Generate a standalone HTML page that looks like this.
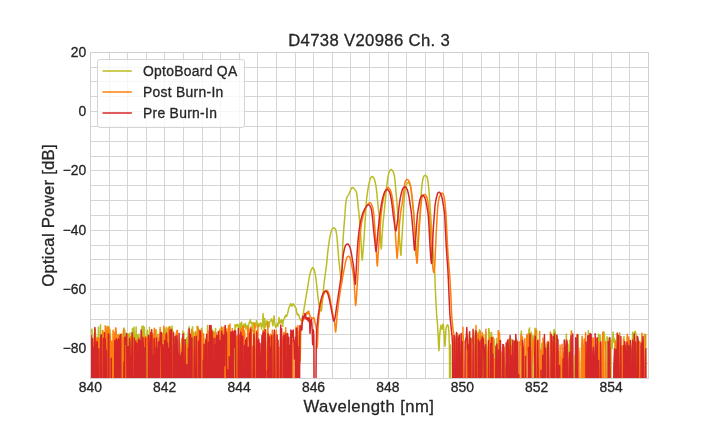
<!DOCTYPE html>
<html lang="en"><head><meta charset="utf-8"><title>D4738 V20986 Ch. 3</title>
<style>html,body{margin:0;padding:0;background:#fff;overflow:hidden}svg{display:block;will-change:transform}text{font-family:"Liberation Sans",sans-serif;fill:#262626;stroke:#262626;stroke-width:0.3px}</style></head><body>
<svg width="720" height="432" viewBox="0 0 720 432">
<rect width="720" height="432" fill="#fff"/>
<clipPath id="ax"><rect x="90.5" y="52.5" width="558" height="325.6"/></clipPath>
<path d="M90.5 52.0V379.0M109.5 52.0V379.0M127.5 52.0V379.0M146.5 52.0V379.0M164.5 52.0V379.0M183.5 52.0V379.0M202.5 52.0V379.0M220.5 52.0V379.0M239.5 52.0V379.0M257.5 52.0V379.0M276.5 52.0V379.0M295.5 52.0V379.0M313.5 52.0V379.0M332.5 52.0V379.0M350.5 52.0V379.0M369.5 52.0V379.0M388.5 52.0V379.0M406.5 52.0V379.0M425.5 52.0V379.0M443.5 52.0V379.0M462.5 52.0V379.0M481.5 52.0V379.0M499.5 52.0V379.0M518.5 52.0V379.0M536.5 52.0V379.0M555.5 52.0V379.0M574.5 52.0V379.0M592.5 52.0V379.0M611.5 52.0V379.0M629.5 52.0V379.0M648.5 52.0V379.0M90.0 52.5H649.0M90.0 67.5H649.0M90.0 81.5H649.0M90.0 96.5H649.0M90.0 111.5H649.0M90.0 126.5H649.0M90.0 141.5H649.0M90.0 156.5H649.0M90.0 170.5H649.0M90.0 185.5H649.0M90.0 200.5H649.0M90.0 215.5H649.0M90.0 230.5H649.0M90.0 245.5H649.0M90.0 259.5H649.0M90.0 274.5H649.0M90.0 289.5H649.0M90.0 304.5H649.0M90.0 319.5H649.0M90.0 334.5H649.0M90.0 348.5H649.0M90.0 363.5H649.0M90.0 378.5H649.0" stroke="#d5d5d5" stroke-width="1" fill="none"/>
<g clip-path="url(#ax)" fill="none" stroke-width="1.5" stroke-linejoin="round" stroke-linecap="round">
<path d="M90.08 460.00L90.41 460.00L91.03 460.00L91.58 330.01L92.05 329.21L92.49 460.00L92.88 460.00L93.44 355.31L94.05 460.00L94.53 336.32L94.90 328.68L95.41 333.19L96.02 340.03L96.61 347.63L97.06 342.02L97.54 337.68L98.12 339.18L98.57 326.97L99.10 460.00L99.49 348.33L100.07 343.95L100.57 324.76L100.96 460.00L101.41 344.56L102.00 460.00L102.50 336.41L102.93 330.91L103.53 341.70L104.01 340.26L104.47 460.00L105.09 337.61L105.51 341.81L106.00 342.61L106.62 328.94L107.00 331.38L107.39 329.36L107.94 326.33L108.41 326.69L108.99 331.91L109.42 460.00L109.91 329.28L110.43 335.55L110.96 360.50L111.53 460.00L112.06 460.00L112.50 460.00L112.92 460.00L113.51 345.55L113.93 460.00L114.53 342.62L115.09 332.60L115.56 460.00L115.95 331.50L116.61 460.00L117.12 460.00L117.56 339.12L117.90 460.00L118.48 337.67L119.05 334.35L119.43 460.00L120.10 334.19L120.50 336.02L120.89 341.92L121.38 460.00L121.92 333.69L122.59 460.00L123.11 357.25L123.39 460.00L123.99 327.94L124.48 341.76L124.92 330.47L125.56 356.37L126.00 350.54L126.60 460.00L127.05 337.35L127.52 334.60L128.12 333.89L128.56 357.95L128.98 337.45L129.57 335.28L129.89 333.11L130.49 460.00L130.96 460.00L131.61 338.50L131.96 338.66L132.47 328.56L133.04 338.36L133.38 350.34L133.94 326.98L134.47 336.02L134.94 460.00L135.51 350.38L136.12 326.94L136.58 347.08L137.02 460.00L137.49 334.64L138.00 460.00L138.61 338.48L138.95 334.30L139.52 349.17L140.05 460.00L140.38 460.00L140.89 460.00L141.56 460.00L141.89 326.34L142.61 330.04L143.10 460.00L143.51 326.00L144.06 342.56L144.40 327.50L144.99 348.15L145.39 460.00L145.99 337.06L146.52 460.00L147.07 333.51L147.43 330.13L148.10 460.00L148.53 372.58L148.94 460.00L149.53 327.35L149.92 338.16L150.62 460.00L150.89 350.39L151.48 460.00L151.90 351.00L152.54 342.40L153.03 351.60L153.49 460.00L153.96 460.00L154.40 350.26L155.03 344.14L155.44 348.33L155.97 329.71L156.51 331.57L157.11 366.19L157.59 345.19L157.90 460.00L158.50 344.26L158.89 338.37L159.54 460.00L159.95 460.00L160.45 329.63L160.96 460.00L161.52 349.69L162.11 342.74L162.45 333.24L163.11 334.88L163.47 389.22L163.97 460.00L164.52 332.47L164.92 328.09L165.60 339.47L165.88 460.00L166.62 327.17L167.08 343.36L167.51 460.00L168.06 343.29L168.40 350.23L169.04 329.70L169.43 460.00L170.01 326.61L170.62 334.32L171.00 337.49L171.60 346.17L172.04 325.95L172.60 335.51L173.01 331.35L173.48 344.00L174.06 460.00L174.42 338.34L174.98 460.00L175.62 460.00L175.95 460.00L176.54 460.00L176.99 354.11L177.60 344.52L177.90 460.00L178.43 460.00L179.05 460.00L179.45 359.14L180.06 460.00L180.51 460.00L180.94 348.72L181.61 341.25L181.93 339.74L182.61 460.00L183.00 331.10L183.62 460.00L183.93 332.71L184.49 460.00L185.07 460.00L185.41 340.01L185.94 460.00L186.50 343.10L186.91 337.44L187.38 373.56L187.94 336.84L188.50 330.47L189.09 326.84L189.57 460.00L190.10 342.92L190.58 460.00L191.01 460.00L191.45 331.68L191.95 460.00L192.46 326.69L192.99 333.07L193.58 336.21L193.93 332.15L194.49 363.31L195.12 460.00L195.45 342.76L196.01 460.00L196.46 460.00L197.04 326.30L197.42 460.00L198.02 328.17L198.58 329.17L198.91 460.00L199.54 460.00L200.08 340.79L200.43 331.38L200.91 460.00L201.50 328.23L202.07 330.10L202.48 335.03L202.98 460.00L203.62 336.81L203.96 338.67L204.54 460.00L204.97 460.00L205.58 345.03L206.01 340.12L206.50 460.00L207.05 460.00L207.50 325.39L208.11 343.93L208.42 337.26L208.94 460.00L209.61 345.88L209.99 460.00L210.62 460.00L211.10 460.00L211.52 332.17L212.12 350.90L212.41 329.60L212.94 338.63L213.42 331.54L213.92 349.14L214.61 357.58L215.06 338.22L215.58 328.47L215.92 460.00L216.52 336.25L217.00 460.00L217.52 460.00L218.04 460.00L218.54 460.00L219.11 460.00L219.49 333.31L220.06 328.90L220.50 329.09L220.98 329.56L221.60 326.90L221.96 330.29L222.56 460.00L223.06 353.10L223.52 389.21L223.91 460.00L224.50 332.06L224.93 329.71L225.47 460.00L225.89 460.00L226.62 339.08L227.08 334.61L227.56 460.00L228.10 333.23L228.57 460.00L229.01 460.00L229.45 333.74L229.89 460.00L230.58 406.17L230.89 332.51L231.60 460.00L232.00 460.00L232.49 333.35L232.95 460.00L233.58 338.29L233.99 460.00L234.59 460.00L235.00 324.80L235.55 327.97L236.10 325.86L236.65 324.56L237.20 324.39L237.75 326.50L238.30 325.10L238.85 329.51L239.40 328.66L239.95 323.16L240.50 331.54L241.05 328.80L241.60 322.05L242.15 328.54L242.70 328.91L243.25 328.41L243.80 324.12L244.35 327.19L244.90 326.29L245.45 323.58L246.00 329.62L246.55 325.78L247.10 326.91L247.65 325.48L248.20 329.45L248.75 325.73L249.30 322.15L249.85 321.64L250.40 319.57L250.95 323.01L251.50 323.64L252.05 322.60L252.60 331.23L253.15 323.47L253.70 322.54L254.25 323.77L254.80 323.55L255.35 327.73L255.90 324.13L256.45 320.80L257.00 323.74L257.55 328.25L258.10 325.46L258.65 323.78L259.20 326.46L259.75 324.62L260.30 322.94L260.85 323.01L261.40 328.99L261.95 324.10L262.50 326.42L263.05 313.50L263.60 323.34L264.15 330.98L264.70 318.47L265.25 327.06L265.80 324.45L266.35 323.73L266.90 320.72L267.45 326.82L268.00 322.08L268.55 325.18L269.10 326.97L269.65 321.74L270.20 321.20L270.75 320.54L271.30 318.96L271.85 319.77L272.40 322.90L272.95 325.80L273.50 319.43L274.05 315.83L274.60 322.16L275.15 325.47L275.70 327.67L276.25 325.08L276.80 326.49L277.35 323.21L277.90 326.09L278.45 323.59L279.00 317.57L279.55 323.31L280.10 320.58L280.65 320.55L281.20 322.78L281.75 319.50L282.30 320.85L282.85 326.46L283.00 321.30L283.35 320.67L283.70 320.06L284.05 318.88L284.40 318.30L284.75 317.74L285.10 316.22L285.45 315.69L285.60 315.48L285.80 315.21L286.15 316.52L286.50 316.16L286.85 315.76L287.20 314.36L287.50 313.80L287.55 313.66L287.90 312.09L288.25 310.49L288.61 308.60L288.75 308.11L288.96 307.58L289.31 306.78L289.66 306.04L290.01 305.47L290.36 303.91L290.60 303.83L290.71 303.86L291.06 304.17L291.41 305.74L291.76 306.09L291.90 306.13L292.11 306.04L292.46 304.85L292.81 304.26L293.16 303.74L293.50 304.53L293.51 304.53L293.86 304.77L294.21 305.36L294.56 305.95L294.91 306.70L295.00 306.87L295.26 307.33L295.61 307.47L295.96 308.18L296.25 308.88L296.31 309.06L296.66 311.86L297.01 313.47L297.36 314.91L297.50 313.54L297.71 314.06L298.06 314.78L298.41 314.42L298.75 315.04L298.76 315.07L299.11 315.82L299.46 317.82L299.82 318.49L300.00 318.77L300.17 319.00L300.52 319.99L300.87 320.37L301.22 320.54L301.25 320.54L301.57 320.84L301.92 320.18L302.27 319.25L302.50 317.89L302.62 317.47L302.97 315.63L303.32 313.38L303.67 311.00L303.75 310.50L304.02 308.89L304.37 306.79L304.72 304.68L305.00 303.00L305.07 302.58L305.42 300.47L305.77 298.36L306.12 296.27L306.25 295.50L306.47 294.20L306.82 292.16L307.17 290.14L307.52 288.10L307.75 286.75L307.87 286.01L308.22 283.78L308.57 281.49L308.92 279.30L309.27 277.36L309.40 276.75L309.62 275.72L309.97 274.17L310.32 272.72L310.67 271.45L311.03 270.42L311.25 269.90L311.38 269.65L311.73 268.95L312.08 268.33L312.43 267.87L312.78 267.62L312.90 267.60L313.13 267.70L313.48 268.17L313.83 268.93L314.18 269.87L314.40 270.50L314.53 270.92L314.88 272.47L315.23 274.46L315.58 276.62L315.60 276.75L315.93 278.96L316.28 281.62L316.63 284.48L316.90 286.75L316.98 287.45L317.33 290.78L317.68 294.26L318.03 297.45L318.10 298.00L318.38 300.24L318.73 302.95L319.08 305.26L319.40 306.75L319.43 306.86L319.78 308.07L320.13 309.17L320.48 310.07L320.83 310.71L321.18 310.99L321.25 311.00L321.53 310.21L321.88 307.48L322.24 303.50L322.59 299.00L322.94 294.72L323.10 293.00L323.29 291.17L323.64 287.66L323.99 284.21L324.34 281.03L324.40 280.50L324.69 278.25L325.04 275.73L325.39 273.28L325.60 271.75L325.74 270.74L326.09 268.21L326.44 265.51L326.50 265.00L326.79 262.31L327.14 258.64L327.49 254.86L327.84 251.38L328.00 250.00L328.19 248.47L328.54 245.73L328.89 243.16L329.24 240.78L329.59 238.64L329.94 236.78L330.00 236.50L330.29 235.13L330.64 233.57L330.99 232.14L331.34 230.92L331.69 229.99L331.90 229.60L332.04 229.38L332.39 228.86L332.74 228.41L333.09 228.05L333.45 227.82L333.75 227.75L333.80 227.75L334.15 227.85L334.50 228.10L334.85 228.47L335.20 228.94L335.55 229.51L335.60 229.60L335.90 230.43L336.25 232.10L336.60 234.31L336.90 236.50L336.95 236.88L337.30 240.68L337.65 245.24L337.75 246.50L338.00 249.65L338.35 254.25L338.70 258.46L338.75 259.00L339.05 261.92L339.40 264.98L339.75 268.00L339.75 268.01L340.10 271.20L340.45 274.42L340.80 277.44L341.00 279.00L341.15 280.27L341.50 282.82L341.60 283.00L341.85 278.26L342.20 262.96L342.50 251.50L342.55 250.16L342.90 242.53L343.10 239.00L343.25 236.53L343.60 231.62L343.95 227.10L344.00 226.50L344.30 222.67L344.66 218.44L345.00 214.00L345.01 213.92L345.36 208.21L345.60 205.00L345.71 204.09L346.06 201.46L346.41 199.41L346.76 197.93L346.90 197.50L347.11 196.99L347.46 196.33L347.81 195.81L348.16 195.34L348.51 194.83L348.75 194.40L348.86 194.18L349.21 193.36L349.56 192.44L349.91 191.52L350.26 190.67L350.60 190.00L350.61 189.98L350.96 189.36L351.31 188.74L351.66 188.18L352.01 187.75L352.36 187.52L352.50 187.50L352.71 187.53L353.06 187.69L353.41 187.97L353.76 188.31L354.11 188.69L354.40 189.00L354.46 189.07L354.81 189.45L355.16 189.87L355.51 190.38L355.87 191.02L356.22 191.81L356.25 191.90L356.57 193.11L356.92 195.15L357.25 197.50L357.27 197.62L357.62 201.00L357.97 204.91L358.10 206.25L358.32 208.16L358.67 210.99L359.00 214.00L359.02 214.18L359.37 218.20L359.72 222.75L360.00 226.50L360.07 227.40L360.42 231.92L360.77 236.89L360.90 239.00L361.12 243.52L361.47 251.03L361.50 251.50L361.82 256.52L362.17 260.09L362.25 260.25L362.52 258.40L362.87 253.25L363.00 251.50L363.22 248.86L363.57 244.66L363.92 240.10L364.00 239.00L364.27 234.64L364.62 228.57L364.75 226.50L364.97 223.16L365.32 218.19L365.60 214.00L365.67 212.74L366.02 205.98L366.25 202.50L366.37 201.14L366.72 197.93L367.08 195.34L367.43 193.00L367.50 192.50L367.78 190.66L368.13 188.44L368.48 186.39L368.83 184.56L369.00 183.75L369.18 182.96L369.53 181.40L369.88 179.98L370.23 178.81L370.58 178.03L370.60 178.00L370.93 177.54L371.28 177.10L371.63 176.77L371.98 176.55L372.25 176.50L372.33 176.51L372.68 176.67L373.03 177.00L373.38 177.46L373.73 177.97L373.75 178.00L374.08 178.63L374.43 179.56L374.78 180.71L375.13 182.03L375.25 182.50L375.48 183.54L375.83 185.44L376.18 187.71L376.50 190.00L376.53 190.26L376.88 193.49L377.23 197.22L377.50 200.00L377.58 200.85L377.93 204.48L378.29 208.01L378.50 210.00L378.64 211.07L378.99 213.85L379.00 214.00L379.34 219.06L379.69 225.46L379.75 226.50L380.04 230.81L380.39 235.86L380.60 239.00L380.74 241.44L381.09 247.90L381.25 249.00L381.44 247.56L381.79 240.94L381.90 239.00L382.14 235.32L382.49 229.99L382.75 226.50L382.84 225.45L383.19 221.74L383.54 218.41L383.89 215.09L384.00 214.00L384.24 211.55L384.59 207.94L384.94 204.35L385.00 203.75L385.29 200.79L385.64 197.23L385.99 193.74L386.25 191.25L386.34 190.37L386.69 186.92L387.04 183.60L387.39 180.73L387.50 180.00L387.74 178.44L388.09 176.34L388.44 174.52L388.79 173.10L389.00 172.50L389.14 172.15L389.50 171.34L389.85 170.62L390.20 170.03L390.55 169.61L390.90 169.41L391.00 169.40L391.25 169.44L391.60 169.64L391.95 169.96L392.30 170.38L392.65 170.87L392.90 171.25L393.00 171.41L393.35 172.20L393.70 173.27L394.05 174.63L394.40 176.25L394.40 176.25L394.75 178.65L395.10 181.94L395.40 185.00L395.45 185.52L395.80 189.53L396.15 193.82L396.25 195.00L396.50 197.91L396.85 201.96L397.10 205.00L397.20 206.34L397.55 211.24L397.75 214.00L397.90 216.05L398.25 220.69L398.50 224.00L398.60 225.41L398.95 230.22L399.30 235.13L399.40 236.50L399.65 240.36L400.00 245.77L400.25 249.00L400.35 250.29L400.71 254.37L400.90 255.25L401.06 254.08L401.41 247.03L401.50 245.25L401.76 241.00L402.11 235.17L402.25 232.75L402.46 229.20L402.81 223.10L403.10 218.00L403.16 217.00L403.51 210.61L403.86 204.58L404.00 202.50L404.21 199.68L404.56 195.32L404.91 191.91L405.00 191.25L405.26 189.59L405.61 187.62L405.96 186.01L406.31 184.84L406.50 184.40L406.66 184.10L407.01 183.49L407.36 182.99L407.71 182.65L408.06 182.50L408.10 182.50L408.41 182.59L408.76 182.88L409.11 183.34L409.46 183.93L409.81 184.61L410.00 185.00L410.16 185.41L410.51 186.66L410.86 188.32L411.21 190.28L411.50 192.00L411.56 192.41L411.92 195.07L412.27 198.25L412.62 201.68L412.75 203.00L412.97 205.12L413.32 208.74L413.67 212.89L413.75 214.00L414.02 218.15L414.37 224.57L414.60 229.00L414.72 231.29L415.07 238.54L415.40 245.00L415.42 245.33L415.77 252.39L416.10 256.00L416.12 255.99L416.47 253.87L416.60 252.75L416.82 250.73L417.17 246.76L417.50 242.75L417.52 242.51L417.87 238.04L418.22 233.31L418.57 228.69L418.75 226.50L418.92 224.57L419.27 220.99L419.62 217.36L419.90 214.00L419.97 212.98L420.32 207.13L420.60 202.50L420.67 201.39L421.02 196.15L421.37 191.45L421.50 190.00L421.72 187.63L422.07 184.29L422.42 181.68L422.50 181.25L422.77 179.83L423.13 178.25L423.48 177.07L423.75 176.50L423.83 176.40L424.18 175.95L424.53 175.59L424.88 175.35L425.23 175.25L425.25 175.25L425.58 175.33L425.93 175.58L426.28 175.96L426.63 176.46L426.90 176.90L426.98 177.06L427.33 178.21L427.68 179.94L428.03 182.05L428.10 182.50L428.38 184.65L428.73 188.16L429.00 191.25L429.08 192.26L429.43 197.55L429.75 202.50L429.78 202.94L430.13 207.66L430.48 212.33L430.60 214.00L430.83 217.49L431.18 222.96L431.25 224.00L431.53 228.28L431.88 233.54L432.23 238.75L432.25 239.00L432.58 243.96L432.93 249.11L433.10 251.50L433.28 254.14L433.63 259.10L433.98 263.81L434.00 264.00L434.34 267.68L434.69 271.95L434.75 273.00L435.04 280.54L435.25 286.75L435.39 290.01L435.74 297.76L436.00 303.00L436.09 304.64L436.44 311.02L436.79 316.53L436.90 318.00L437.14 320.42L437.49 323.85L437.50 324.00L437.84 329.59L438.10 334.94L438.19 336.66L438.54 344.81L438.89 350.72L439.00 349.87L439.24 346.69L439.59 336.92L439.75 333.62L439.94 333.82L440.29 329.43L440.60 327.80L440.64 327.81L440.99 325.33L441.34 326.78L441.69 328.00L441.90 329.30L442.04 329.11L442.39 327.46L442.74 324.98L443.09 323.92L443.10 323.92L443.44 325.78L443.79 330.26L444.10 334.14L444.14 334.66L444.49 340.11L444.84 345.53L445.00 346.17L445.19 343.93L445.55 335.76L445.60 334.92L445.90 330.06L446.25 327.38L446.25 327.36L446.60 326.16L446.95 326.01L447.30 325.24L447.65 324.72L448.00 325.46L448.10 325.44L448.35 326.41L448.70 330.42L449.00 333.40L449.05 334.32L449.40 347.02L449.50 353.00L449.75 428.16L449.90 460.00L450.10 402.77L450.30 345.00L450.45 353.50L450.80 460.00L451.32 460.00L452.46 460.00L453.21 460.00L453.93 460.00L454.69 355.22L455.85 340.48L456.73 460.00L457.66 333.74L458.49 460.00L459.24 460.00L460.17 460.00L460.88 460.00L461.65 460.00L462.62 460.00L463.34 335.79L464.42 460.00L464.93 460.00L466.05 460.00L466.90 460.00L467.73 334.11L468.33 460.00L469.29 460.00L469.99 460.00L471.07 339.17L471.77 343.87L472.58 339.20L473.80 330.93L474.41 460.00L475.38 348.52L476.07 339.26L476.94 460.00L477.80 337.13L478.58 333.33L479.60 329.78L480.24 335.80L481.32 346.63L482.05 460.00L482.99 460.00L483.81 334.73L484.70 460.00L485.54 460.00L486.34 343.38L487.30 353.43L488.15 460.00L488.74 328.61L489.75 333.09L490.74 460.00L491.45 332.41L492.12 339.28L493.28 357.00L494.02 338.92L494.91 351.89L495.72 460.00L496.55 338.47L497.53 460.00L498.42 358.25L498.95 332.11L499.78 460.00L500.73 460.00L501.51 352.79L502.65 460.00L503.52 345.82L504.41 460.00L505.10 460.00L505.97 365.65L506.54 460.00L507.52 460.00L508.36 340.43L509.14 354.84L510.14 341.72L510.84 460.00L511.72 339.15L512.78 341.59L513.51 342.69L514.46 460.00L515.39 460.00L516.08 460.00L517.14 340.30L517.89 460.00L518.68 460.00L519.66 460.00L520.50 460.00L521.30 330.99L522.03 340.53L522.87 460.00L523.72 460.00L524.67 346.46L525.41 460.00L526.47 460.00L527.12 460.00L528.14 460.00L528.89 329.90L529.53 327.95L530.50 460.00L531.47 332.17L532.42 460.00L533.04 335.67L533.87 355.36L535.01 328.36L535.79 460.00L536.71 330.50L537.33 460.00L538.27 460.00L539.26 460.00L539.84 460.00L540.71 460.00L541.66 343.35L542.55 350.39L543.43 460.00L544.14 367.20L545.15 460.00L546.02 343.98L546.64 460.00L547.67 344.60L548.40 460.00L549.28 460.00L549.93 460.00L550.86 364.42L551.61 384.81L552.63 460.00L553.48 334.58L554.20 329.40L555.21 332.78L556.10 460.00L556.69 334.92L557.89 460.00L558.69 353.76L559.46 460.00L560.13 460.00L561.35 460.00L561.96 357.32L562.75 460.00L563.88 460.00L564.55 460.00L565.56 352.81L566.42 334.09L567.01 460.00L567.85 344.25L568.77 460.00L569.63 340.19L570.64 460.00L571.36 460.00L572.16 337.49L572.88 460.00L573.82 460.00L574.74 355.40L575.56 460.00L576.49 338.05L577.22 339.92L578.19 334.88L579.00 460.00L579.68 397.47L580.60 460.00L581.52 349.28L582.48 340.15L583.46 460.00L584.03 344.66L585.09 460.00L585.91 354.86L586.70 460.00L587.68 352.04L588.38 330.60L589.30 460.00L590.13 460.00L591.08 349.42L591.87 460.00L592.71 460.00L593.43 460.00L594.14 460.00L595.25 460.00L595.84 460.00L596.69 340.89L597.62 460.00L598.58 333.89L599.42 352.85L600.09 334.94L601.07 352.93L602.02 460.00L602.80 375.37L603.48 331.38L604.36 333.50L605.21 351.72L606.24 460.00L607.00 336.64L607.94 343.52L608.95 338.07L609.68 460.00L610.35 460.00L611.11 339.84L612.10 348.53L613.03 331.97L614.02 342.27L614.81 339.18L615.47 460.00L616.20 371.23L617.18 333.17L618.29 460.00L619.08 343.30L619.92 460.00L620.52 460.00L621.61 347.09L622.52 349.56L623.39 348.37L623.96 336.60L624.79 363.03L625.77 460.00L626.51 460.00L627.29 460.00L628.20 338.27L629.06 460.00L630.15 346.35L630.90 346.15L631.77 361.82L632.67 332.33L633.21 460.00L634.14 333.26L635.04 331.26L635.98 333.62L636.69 460.00L637.48 346.44L638.67 354.95L639.38 460.00L640.41 460.00L641.21 460.00L641.97 460.00L642.55 460.00L643.81 349.60L644.46 334.04L645.31 460.00L646.16 460.00L647.00 460.00" stroke="#bcbd22"/>
<path d="M89.95 343.53L90.56 345.61L90.95 345.72L91.42 460.00L91.74 460.00L92.29 460.00L92.81 460.00L93.22 460.00L93.62 342.80L93.97 344.11L94.52 333.75L95.03 335.06L95.36 460.00L95.88 339.87L96.37 342.67L96.67 460.00L97.23 337.54L97.66 338.65L98.20 365.78L98.57 344.24L99.05 338.23L99.45 343.28L99.83 460.00L100.46 350.09L100.77 339.31L101.24 343.57L101.71 460.00L102.05 460.00L102.52 330.59L103.08 362.77L103.60 347.98L104.00 460.00L104.46 361.59L104.76 460.00L105.28 325.72L105.72 352.39L106.30 333.74L106.73 460.00L107.01 326.64L107.65 354.37L108.10 330.99L108.40 460.00L108.93 327.33L109.45 346.49L109.85 460.00L110.17 336.81L110.66 460.00L111.06 460.00L111.57 341.34L112.13 349.32L112.41 460.00L113.06 330.21L113.31 340.31L113.89 342.12L114.40 460.00L114.86 331.96L115.25 460.00L115.61 327.79L116.07 328.86L116.62 460.00L116.90 460.00L117.36 460.00L117.87 334.65L118.39 460.00L118.82 460.00L119.33 338.94L119.79 343.44L120.21 351.48L120.68 338.56L121.04 334.86L121.59 345.99L122.04 338.15L122.33 349.93L122.94 460.00L123.36 331.46L123.76 328.98L124.23 460.00L124.58 359.96L124.99 460.00L125.65 460.00L125.93 342.44L126.48 360.83L126.83 460.00L127.28 460.00L127.89 460.00L128.26 460.00L128.75 460.00L129.12 460.00L129.58 337.57L130.05 460.00L130.56 336.82L130.86 460.00L131.31 460.00L131.77 460.00L132.38 460.00L132.75 334.54L133.24 348.86L133.65 460.00L134.18 364.51L134.53 460.00L135.02 460.00L135.51 460.00L135.98 340.50L136.35 343.40L136.87 460.00L137.36 350.17L137.76 341.73L138.09 460.00L138.62 337.52L139.14 337.85L139.41 460.00L139.86 355.82L140.42 460.00L140.80 460.00L141.21 460.00L141.84 332.54L142.27 460.00L142.70 460.00L143.16 460.00L143.51 376.50L144.06 339.59L144.54 460.00L144.95 336.30L145.28 460.00L145.74 342.77L146.24 460.00L146.63 337.30L147.21 339.11L147.59 338.11L148.15 345.30L148.60 344.05L149.03 341.32L149.42 460.00L149.77 336.79L150.36 460.00L150.69 335.53L151.16 344.46L151.69 460.00L152.06 460.00L152.47 333.51L152.95 460.00L153.45 460.00L153.88 338.22L154.35 328.24L154.78 339.73L155.27 330.12L155.81 460.00L156.04 460.00L156.64 460.00L157.10 460.00L157.45 460.00L158.00 334.48L158.49 460.00L158.92 358.45L159.27 460.00L159.67 362.01L160.16 327.50L160.56 460.00L160.99 339.83L161.58 337.13L162.10 460.00L162.50 437.51L162.85 460.00L163.24 460.00L163.77 326.18L164.16 365.53L164.78 460.00L165.20 335.75L165.71 342.60L166.03 460.00L166.54 335.57L167.02 460.00L167.44 359.20L167.93 336.26L168.23 328.29L168.68 337.86L169.16 326.86L169.62 328.86L170.09 362.06L170.47 340.43L171.08 346.31L171.49 360.01L171.89 345.88L172.29 460.00L172.70 460.00L173.22 460.00L173.63 339.35L174.14 460.00L174.55 460.00L174.94 378.06L175.59 346.43L176.02 336.01L176.33 333.04L176.95 330.74L177.37 330.22L177.81 339.21L178.16 460.00L178.54 460.00L179.00 460.00L179.52 356.56L179.99 460.00L180.39 460.00L181.00 356.14L181.29 348.93L181.81 338.54L182.20 460.00L182.60 345.30L183.26 460.00L183.68 339.27L184.14 460.00L184.42 348.67L184.92 460.00L185.38 346.23L185.75 460.00L186.20 460.00L186.73 460.00L187.23 344.68L187.63 343.95L187.99 460.00L188.65 460.00L189.00 460.00L189.51 460.00L189.90 460.00L190.27 343.53L190.89 339.59L191.22 349.67L191.67 329.59L192.11 350.96L192.69 347.84L193.02 460.00L193.55 357.94L193.96 460.00L194.35 338.92L194.87 342.26L195.23 339.60L195.67 331.78L196.31 460.00L196.63 334.75L197.11 337.98L197.66 460.00L197.95 326.68L198.39 342.77L198.94 332.11L199.29 460.00L199.76 460.00L200.33 342.86L200.77 460.00L201.20 460.00L201.55 330.36L202.09 360.53L202.42 350.00L202.88 350.22L203.49 333.63L203.82 460.00L204.25 460.00L204.78 460.00L205.14 460.00L205.73 366.14L206.15 460.00L206.61 334.87L206.96 460.00L207.39 460.00L207.91 330.64L208.26 460.00L208.74 460.00L209.28 460.00L209.60 331.98L210.21 347.20L210.56 460.00L211.02 355.26L211.51 460.00L211.87 339.06L212.50 460.00L212.78 460.00L213.20 344.57L213.74 338.28L214.15 332.27L214.70 378.90L214.99 460.00L215.47 460.00L215.99 337.66L216.40 332.95L216.94 460.00L217.29 460.00L217.88 344.10L218.20 460.00L218.69 365.59L219.08 333.28L219.64 460.00L219.94 330.37L220.52 460.00L221.05 460.00L221.45 460.00L221.78 327.25L222.32 328.71L222.83 340.72L223.09 460.00L223.71 460.00L224.09 327.05L224.65 460.00L225.09 331.07L225.46 337.77L225.93 329.66L226.27 460.00L226.69 329.01L227.31 377.04L227.79 460.00L228.10 460.00L228.51 325.44L229.15 460.00L229.55 460.00L229.96 324.02L230.35 339.88L230.96 460.00L231.20 343.08L231.69 460.00L232.27 328.52L232.64 460.00L233.11 332.38L233.57 460.00L234.00 460.00L234.35 460.00L234.90 375.83L235.33 460.00L235.80 339.10L236.28 336.83L236.80 336.08L237.09 460.00L237.67 335.65L238.12 373.83L238.42 367.87L238.89 460.00L239.32 460.00L239.86 342.97L240.37 329.86L240.65 345.24L241.13 460.00L241.70 328.95L242.06 460.00L242.59 326.03L243.09 460.00L243.47 326.74L243.89 375.32L244.40 330.57L244.80 334.46L245.21 460.00L245.60 460.00L246.06 460.00L246.71 460.00L247.14 460.00L247.60 331.93L247.84 327.58L248.36 340.03L248.81 328.74L249.34 332.63L249.82 460.00L250.17 460.00L250.64 327.06L251.10 327.16L251.55 351.47L252.02 460.00L252.46 460.00L252.83 460.00L253.41 331.25L253.79 352.41L254.36 323.36L254.75 325.06L255.25 357.32L255.58 460.00L255.98 460.00L256.46 360.87L256.95 330.42L257.36 460.00L257.96 325.26L258.39 460.00L258.77 369.12L259.13 360.33L259.70 460.00L260.19 460.00L260.64 460.00L261.05 460.00L261.49 460.00L261.84 460.00L262.46 460.00L262.90 330.34L263.19 332.30L263.66 460.00L264.17 460.00L264.56 460.00L265.00 460.00L265.45 329.47L265.89 352.47L266.36 354.79L266.91 460.00L267.27 358.67L267.81 321.95L268.10 336.75L268.73 460.00L269.08 395.47L269.48 460.00L269.90 334.77L270.42 334.23L270.94 334.71L271.41 357.37L271.73 460.00L272.33 329.91L272.63 460.00L273.23 460.00L273.66 353.57L274.05 334.06L274.49 338.30L274.97 460.00L275.37 375.42L275.95 460.00L276.30 330.42L276.72 460.00L277.22 460.00L277.69 460.00L278.10 460.00L278.61 349.41L278.94 347.10L279.52 460.00L279.92 460.00L280.31 460.00L280.69 341.92L281.15 460.00L281.74 460.00L282.08 339.76L282.52 336.92L282.95 355.62L283.51 334.42L283.88 332.72L284.31 332.26L284.93 460.00L285.28 460.00L285.75 327.75L286.27 460.00L286.60 347.33L287.11 333.78L287.55 337.23L288.03 339.46L288.45 338.73L288.82 366.24L289.29 460.00L289.79 349.41L290.23 460.00L290.79 334.20L291.11 460.00L291.69 460.00L291.99 340.01L292.47 347.39L292.87 340.05L293.42 460.00L293.76 460.00L294.38 460.00L294.74 460.00L295.13 340.21L295.73 460.00L295.99 327.03L296.52 460.00L296.99 460.00L297.49 339.27L297.85 325.63L298.30 460.00L298.79 356.04L299.60 330.00L299.95 357.44L300.10 361.73L300.30 356.00L300.65 335.47L300.80 330.98L301.00 327.62L301.35 325.15L301.70 323.33L302.05 321.54L302.40 320.51L302.75 319.60L303.00 320.90L303.10 320.62L303.45 319.77L303.80 319.25L304.15 318.59L304.50 317.97L304.85 316.50L305.00 316.25L305.20 315.87L305.55 315.20L305.90 313.61L306.25 313.01L306.60 312.55L306.90 313.92L306.95 313.89L307.31 313.72L307.66 313.56L308.01 311.29L308.36 311.20L308.71 311.17L308.75 311.17L309.06 313.55L309.41 314.52L309.76 315.66L310.00 315.47L310.11 315.71L310.46 316.50L310.81 317.22L311.16 317.83L311.25 317.96L311.51 318.32L311.86 317.79L312.21 318.12L312.50 318.22L312.56 318.22L312.91 318.79L313.26 318.28L313.61 317.89L313.75 317.56L313.96 317.74L314.31 318.69L314.66 321.02L315.00 322.46L315.01 322.50L315.36 323.83L315.71 325.03L316.06 326.87L316.41 329.43L316.50 330.23L316.76 335.49L317.11 345.99L317.25 347.41L317.46 344.75L317.81 334.81L318.00 329.95L318.16 326.89L318.51 321.00L318.75 318.89L318.86 317.75L319.21 313.96L319.50 312.00L319.56 311.59L319.91 309.45L320.26 307.52L320.61 305.76L320.96 304.16L321.00 304.00L321.31 302.67L321.66 301.26L322.01 299.95L322.36 298.73L322.72 297.60L323.00 296.75L323.07 296.56L323.42 295.55L323.77 294.57L324.12 293.66L324.47 292.87L324.82 292.25L325.00 292.00L325.17 291.80L325.52 291.40L325.87 291.05L326.22 290.76L326.57 290.57L326.90 290.50L326.92 290.50L327.27 290.65L327.62 291.04L327.97 291.63L328.32 292.36L328.67 293.18L329.00 294.00L329.02 294.05L329.37 295.21L329.72 296.79L330.07 298.66L330.42 300.70L330.77 302.79L331.12 304.80L331.25 305.50L331.47 306.68L331.82 308.62L332.17 310.59L332.52 312.52L332.87 314.37L333.10 315.50L333.22 316.06L333.57 317.46L333.92 318.76L334.27 320.23L334.60 322.00L334.62 322.15L334.97 326.05L335.32 330.47L335.60 332.00L335.67 331.91L336.02 329.44L336.37 324.89L336.72 320.02L336.90 318.00L337.07 316.26L337.42 312.83L337.77 309.56L338.10 306.75L338.13 306.54L338.48 303.75L338.83 301.11L339.18 298.59L339.53 296.17L339.88 293.82L340.00 293.00L340.23 291.52L340.58 289.30L340.93 287.13L341.28 285.03L341.63 282.97L341.98 280.95L342.33 278.97L342.50 278.00L342.68 277.01L343.03 275.11L343.38 273.24L343.73 271.42L344.08 269.62L344.40 268.00L344.43 267.85L344.78 266.00L345.13 264.11L345.48 262.34L345.83 260.84L346.00 260.25L346.18 259.69L346.53 258.63L346.88 257.72L347.23 257.04L347.50 256.75L347.58 256.70L347.93 256.49L348.28 256.33L348.63 256.26L348.75 256.25L348.98 256.32L349.33 256.66L349.68 257.18L350.00 257.75L350.03 257.81L350.38 258.84L350.73 260.31L351.08 261.97L351.25 262.75L351.43 263.61L351.78 265.38L352.13 267.32L352.25 268.00L352.48 269.38L352.83 271.43L353.18 273.64L353.54 276.22L353.89 279.33L354.00 280.50L354.24 283.80L354.59 290.20L354.75 293.00L354.94 296.31L355.29 302.79L355.60 305.50L355.64 305.48L355.99 303.21L356.34 298.86L356.50 296.75L356.69 294.05L357.04 287.87L357.25 284.25L357.39 282.21L357.74 277.49L358.09 271.97L358.10 271.75L358.44 263.48L358.50 262.00L358.79 255.17L359.14 247.31L359.40 242.75L359.49 241.52L359.84 237.27L360.19 233.78L360.54 230.75L360.60 230.25L360.89 227.97L361.24 225.47L361.59 223.25L361.90 221.50L361.94 221.28L362.29 219.50L362.64 217.85L362.99 216.33L363.34 214.95L363.69 213.70L363.75 213.50L364.04 212.56L364.39 211.50L364.74 210.51L365.09 209.59L365.44 208.74L365.79 207.94L366.00 207.50L366.14 207.20L366.49 206.46L366.84 205.75L367.19 205.10L367.54 204.54L367.89 204.10L368.00 204.00L368.24 203.77L368.59 203.46L368.95 203.18L369.30 202.96L369.65 202.81L370.00 202.75L370.00 202.75L370.35 202.87L370.70 203.19L371.05 203.67L371.40 204.26L371.75 204.90L371.80 205.00L372.10 205.68L372.45 206.76L372.80 208.11L373.00 209.00L373.15 209.74L373.50 211.99L373.75 214.00L373.85 214.91L374.20 218.96L374.55 223.72L374.75 226.50L374.90 228.55L375.25 233.63L375.60 238.99L375.60 239.00L375.95 244.72L376.30 250.67L376.50 254.00L376.65 256.82L377.00 263.80L377.25 266.00L377.35 265.72L377.70 261.62L378.05 255.93L378.10 255.25L378.40 251.15L378.75 246.22L379.00 242.75L379.10 241.34L379.45 236.48L379.80 231.67L380.00 229.00L380.15 226.92L380.50 222.05L380.85 217.59L381.00 216.00L381.20 214.02L381.55 210.89L381.90 208.09L382.25 205.59L382.50 204.00L382.60 203.36L382.95 201.28L383.30 199.35L383.65 197.57L384.01 195.96L384.36 194.53L384.50 194.00L384.71 193.27L385.06 192.07L385.41 190.97L385.76 190.03L386.11 189.29L386.30 189.00L386.46 188.80L386.81 188.37L387.16 188.00L387.51 187.71L387.86 187.54L388.10 187.50L388.21 187.51L388.56 187.66L388.91 187.97L389.26 188.39L389.61 188.89L389.96 189.44L390.00 189.50L390.31 190.08L390.66 190.96L391.01 192.03L391.36 193.27L391.71 194.63L391.80 195.00L392.06 196.20L392.41 198.16L392.76 200.41L393.11 202.86L393.20 203.50L393.46 205.35L393.81 207.99L394.16 211.22L394.40 214.00L394.51 215.78L394.86 223.61L395.00 226.50L395.21 230.30L395.56 236.07L395.90 241.50L395.91 241.71L396.26 247.62L396.60 252.75L396.61 252.93L396.96 257.72L397.10 258.40L397.31 257.20L397.66 251.94L397.90 248.00L398.01 246.17L398.36 239.64L398.71 233.51L398.75 233.00L399.06 228.95L399.42 225.04L399.75 221.50L399.77 221.34L400.12 217.57L400.47 214.13L400.60 213.00L400.82 211.40L401.17 209.17L401.52 207.20L401.87 205.28L402.22 203.19L402.50 201.25L402.57 200.73L402.92 197.58L403.27 194.12L403.62 190.98L403.75 190.00L403.97 188.51L404.32 186.20L404.67 184.15L405.02 182.58L405.25 181.90L405.37 181.64L405.72 180.92L406.07 180.30L406.42 179.82L406.77 179.50L407.10 179.40L407.12 179.40L407.47 179.50L407.82 179.74L408.17 180.10L408.52 180.55L408.87 181.06L409.00 181.25L409.22 181.64L409.57 182.47L409.92 183.55L410.27 184.85L410.60 186.25L410.62 186.35L410.97 188.43L411.32 191.17L411.67 194.24L411.90 196.25L412.02 197.37L412.37 200.88L412.72 204.51L412.90 206.25L413.07 207.82L413.42 210.79L413.75 214.00L413.77 214.28L414.12 218.91L414.47 224.40L414.75 229.00L414.83 230.31L415.18 237.12L415.53 243.94L415.60 245.25L415.88 249.95L416.23 255.50L416.50 259.00L416.58 259.87L416.93 263.24L417.00 263.40L417.28 261.61L417.63 256.13L417.90 251.50L417.98 250.29L418.33 244.07L418.68 237.71L418.75 236.50L419.03 232.09L419.38 226.81L419.73 221.80L419.75 221.50L420.08 217.11L420.40 213.00L420.43 212.63L420.78 207.81L421.13 203.62L421.20 203.00L421.48 200.83L421.83 198.53L422.18 197.06L422.25 196.90L422.53 196.37L422.88 195.79L423.23 195.30L423.58 194.91L423.93 194.62L424.28 194.45L424.60 194.40L424.63 194.40L424.98 194.49L425.33 194.73L425.68 195.08L426.03 195.53L426.38 196.06L426.50 196.25L426.73 196.77L427.08 198.00L427.43 199.62L427.75 201.25L427.78 201.43L428.13 203.78L428.48 206.60L428.75 208.75L428.83 209.39L429.18 212.03L429.40 214.00L429.53 215.52L429.88 220.50L430.24 226.26L430.40 229.00L430.59 232.19L430.94 238.73L431.29 245.29L431.50 249.00L431.64 251.27L431.99 257.15L432.34 262.22L432.50 264.00L432.69 265.78L433.04 268.96L433.39 271.39L433.74 272.40L433.75 272.40L434.09 271.49L434.44 269.01L434.75 266.00L434.79 265.55L435.14 258.08L435.40 251.50L435.49 249.52L435.84 241.60L436.19 233.99L436.25 232.75L436.54 226.99L436.89 220.48L437.10 217.00L437.24 214.81L437.59 209.46L437.94 205.12L438.10 203.75L438.29 202.47L438.64 200.45L438.99 198.80L439.34 197.47L439.69 196.41L439.75 196.25L440.04 195.50L440.39 194.68L440.74 194.02L441.09 193.59L441.25 193.50L441.44 193.44L441.79 193.34L442.14 193.27L442.49 193.25L442.50 193.25L442.84 193.49L443.19 194.13L443.54 195.02L443.75 195.60L443.89 196.09L444.24 197.83L444.59 200.13L444.75 201.25L444.94 202.92L445.29 206.67L445.60 210.00L445.65 210.44L446.00 213.94L446.00 214.00L446.35 220.73L446.60 226.50L446.70 228.52L447.05 236.08L447.40 243.30L447.50 245.25L447.75 249.70L448.10 255.64L448.45 260.81L448.50 261.50L448.80 264.78L449.10 268.00L449.15 268.58L449.50 273.12L449.85 278.16L450.00 280.50L450.20 283.71L450.55 289.90L450.90 296.72L450.90 296.75L451.25 305.12L451.60 312.98L451.60 313.00L451.95 318.25L452.25 322.00L452.30 322.60L452.65 326.56L453.00 330.00L453.54 331.22L454.12 356.24L454.78 336.98L455.31 460.00L456.21 348.63L456.62 460.00L457.37 460.00L458.05 338.97L458.60 460.00L459.05 460.00L459.95 352.29L460.42 460.00L460.94 460.00L461.53 344.77L462.22 460.00L462.92 327.31L463.67 460.00L464.13 460.00L464.91 460.00L465.38 460.00L466.15 339.47L466.50 340.02L467.10 460.00L467.83 358.33L468.63 371.91L469.21 460.00L469.71 460.00L470.36 460.00L470.84 338.07L471.44 352.65L472.23 460.00L472.96 460.00L473.40 337.51L474.06 460.00L474.64 460.00L475.42 346.16L476.07 325.47L476.51 460.00L477.07 356.05L477.85 333.30L478.44 335.88L478.96 342.27L479.71 460.00L480.20 331.26L480.76 460.00L481.60 344.18L482.21 332.79L482.65 460.00L483.51 460.00L484.04 460.00L484.70 460.00L485.19 348.74L485.98 329.37L486.48 359.33L487.12 460.00L487.58 460.00L488.28 460.00L488.95 460.00L489.56 340.92L490.22 337.42L490.76 460.00L491.31 343.97L491.89 460.00L492.77 339.62L493.19 337.17L493.93 460.00L494.63 358.79L495.08 384.79L495.84 460.00L496.42 460.00L496.99 460.00L497.53 460.00L498.23 330.43L498.91 460.00L499.58 333.23L500.09 376.82L500.86 351.01L501.35 460.00L501.84 460.00L502.56 460.00L503.33 460.00L503.95 460.00L504.57 347.15L504.91 460.00L505.55 460.00L506.16 460.00L506.92 460.00L507.61 351.55L508.22 460.00L508.63 460.00L509.41 338.55L510.04 362.77L510.79 460.00L511.38 345.98L511.84 460.00L512.38 460.00L513.15 460.00L513.64 460.00L514.28 460.00L515.13 460.00L515.51 432.41L516.07 342.12L516.86 366.75L517.52 460.00L518.23 460.00L518.74 460.00L519.44 341.77L519.95 343.73L520.50 345.11L521.18 334.06L521.74 460.00L522.38 336.96L523.05 460.00L523.58 460.00L524.27 460.00L524.78 338.66L525.62 460.00L526.00 460.00L526.71 334.92L527.36 349.57L528.02 333.86L528.61 361.36L529.23 346.53L529.98 460.00L530.53 334.23L531.02 460.00L531.77 348.73L532.25 364.15L533.06 339.78L533.48 348.40L534.28 342.07L534.91 339.23L535.47 333.81L536.07 329.08L536.65 460.00L537.15 460.00L537.79 368.22L538.68 460.00L539.11 460.00L539.65 331.52L540.34 460.00L541.02 350.03L541.51 460.00L542.24 417.48L543.02 338.29L543.54 345.95L544.20 347.95L544.87 460.00L545.48 460.00L546.05 460.00L546.52 460.00L547.33 342.10L547.82 341.43L548.42 460.00L549.18 460.00L549.75 460.00L550.31 331.97L550.84 348.40L551.56 343.55L552.29 363.98L552.73 341.43L553.49 460.00L554.02 339.57L554.53 347.97L555.35 343.23L555.84 460.00L556.39 357.66L557.22 337.48L557.66 351.01L558.37 350.83L559.01 460.00L559.72 460.00L560.12 345.24L560.84 460.00L561.63 460.00L562.06 344.31L562.72 356.24L563.28 353.55L564.01 460.00L564.54 347.71L565.07 351.51L565.68 460.00L566.33 460.00L567.06 460.00L567.70 460.00L568.45 358.26L568.79 460.00L569.61 460.00L570.30 460.00L570.65 348.31L571.44 330.82L572.11 342.20L572.57 460.00L573.13 460.00L573.75 460.00L574.49 460.00L575.26 460.00L575.76 460.00L576.33 460.00L576.93 334.65L577.73 460.00L578.18 347.08L578.99 350.75L579.31 460.00L580.19 460.00L580.81 460.00L581.18 374.12L582.06 336.33L582.43 339.25L583.09 460.00L583.67 356.08L584.37 339.05L585.11 460.00L585.61 332.80L586.38 396.43L586.98 460.00L587.53 460.00L588.24 336.45L588.91 349.16L589.41 460.00L590.15 460.00L590.66 460.00L591.34 460.00L591.71 338.40L592.47 460.00L593.21 337.83L593.63 405.69L594.42 460.00L594.83 460.00L595.64 339.49L596.12 460.00L596.67 338.42L597.39 460.00L597.92 387.58L598.75 341.82L599.39 345.23L600.03 460.00L600.65 460.00L601.27 460.00L601.78 460.00L602.29 342.99L602.87 332.51L603.51 362.35L604.28 460.00L604.82 460.00L605.53 341.74L606.20 460.00L606.78 460.00L607.49 460.00L607.99 460.00L608.53 460.00L609.14 460.00L609.96 347.57L610.57 460.00L611.03 460.00L611.56 460.00L612.34 460.00L612.79 460.00L613.49 460.00L614.20 460.00L614.91 460.00L615.48 341.18L616.17 460.00L616.63 460.00L617.26 460.00L617.89 341.63L618.51 460.00L619.07 369.34L619.65 332.98L620.53 460.00L621.04 375.55L621.54 460.00L622.14 345.72L622.98 460.00L623.51 339.36L624.01 460.00L624.60 460.00L625.20 460.00L625.85 460.00L626.48 347.07L627.32 334.30L627.68 344.94L628.58 337.05L629.07 340.46L629.65 460.00L630.37 355.81L630.98 460.00L631.62 460.00L632.12 460.00L632.93 385.47L633.33 343.68L633.95 338.48L634.65 460.00L635.41 460.00L635.95 460.00L636.36 460.00L637.26 460.00L637.80 460.00L638.26 460.00L639.02 460.00L639.59 341.61L640.20 460.00L640.70 347.20L641.40 345.19L641.96 333.13L642.66 460.00L643.42 355.94L644.07 369.88L644.51 460.00L645.18 460.00L645.67 334.73" stroke="#ff7f0e"/>
<path d="M90.02 460.00L90.48 336.81L90.78 460.00L91.14 335.64L91.67 460.00L92.07 460.00L92.48 338.47L92.80 460.00L93.20 347.53L93.53 460.00L93.95 358.60L94.46 347.09L94.90 327.60L95.24 351.06L95.67 460.00L96.03 460.00L96.36 360.22L96.73 341.86L97.22 342.22L97.52 460.00L97.91 460.00L98.42 460.00L98.88 348.79L99.19 460.00L99.62 460.00L100.09 460.00L100.31 460.00L100.80 336.02L101.22 334.80L101.61 460.00L102.05 460.00L102.33 460.00L102.77 460.00L103.23 338.49L103.63 460.00L103.92 460.00L104.48 332.80L104.76 460.00L105.13 338.50L105.64 349.20L105.92 460.00L106.42 350.82L106.75 460.00L107.22 460.00L107.58 460.00L108.07 460.00L108.39 334.00L108.85 334.50L109.12 460.00L109.54 460.00L110.08 460.00L110.45 460.00L110.79 460.00L111.22 358.21L111.59 460.00L111.93 460.00L112.37 460.00L112.88 460.00L113.15 460.00L113.53 460.00L113.95 460.00L114.31 460.00L114.83 340.60L115.29 460.00L115.63 460.00L116.03 460.00L116.34 338.87L116.75 460.00L117.18 460.00L117.59 340.77L118.05 460.00L118.33 339.03L118.83 460.00L119.30 339.13L119.51 460.00L119.98 335.71L120.41 460.00L120.72 334.55L121.28 460.00L121.69 460.00L121.95 460.00L122.38 460.00L122.75 460.00L123.16 460.00L123.51 460.00L123.94 361.92L124.38 460.00L124.72 337.23L125.28 344.11L125.50 344.32L126.00 341.34L126.45 333.49L126.76 333.76L127.27 460.00L127.52 460.00L127.92 460.00L128.33 346.45L128.75 460.00L129.19 460.00L129.51 338.83L129.97 343.94L130.38 460.00L130.85 460.00L131.28 354.34L131.59 366.08L132.09 332.75L132.46 351.98L132.73 460.00L133.13 460.00L133.64 460.00L133.91 460.00L134.31 338.03L134.73 460.00L135.27 460.00L135.59 341.14L135.97 460.00L136.42 460.00L136.85 343.25L137.21 460.00L137.64 460.00L138.09 460.00L138.48 339.18L138.79 460.00L139.25 460.00L139.61 340.29L140.06 345.80L140.31 460.00L140.71 350.60L141.14 329.97L141.54 460.00L141.97 352.25L142.35 372.27L142.87 337.18L143.27 343.75L143.51 460.00L143.92 460.00L144.48 348.01L144.86 460.00L145.24 460.00L145.50 338.08L146.02 460.00L146.38 460.00L146.71 460.00L147.18 460.00L147.64 460.00L148.10 460.00L148.44 336.10L148.82 335.16L149.20 345.01L149.52 460.00L149.97 460.00L150.36 363.75L150.84 332.49L151.25 460.00L151.67 329.76L152.02 340.73L152.40 460.00L152.81 355.19L153.10 460.00L153.54 460.00L154.08 338.51L154.44 346.54L154.84 348.43L155.28 460.00L155.56 460.00L156.02 460.00L156.45 338.06L156.71 460.00L157.28 348.39L157.68 352.02L157.96 460.00L158.49 341.80L158.71 460.00L159.21 460.00L159.62 350.75L160.04 340.20L160.47 332.67L160.76 344.28L161.24 332.41L161.52 333.72L161.93 460.00L162.33 460.00L162.86 344.65L163.28 349.43L163.52 351.46L163.94 460.00L164.39 460.00L164.72 340.46L165.21 460.00L165.52 460.00L166.09 334.96L166.45 333.21L166.80 358.66L167.25 460.00L167.58 343.01L168.00 460.00L168.36 348.28L168.87 460.00L169.11 460.00L169.55 460.00L169.91 330.42L170.32 460.00L170.90 460.00L171.17 329.27L171.65 330.29L171.90 460.00L172.39 460.00L172.80 460.00L173.14 460.00L173.52 332.78L174.09 460.00L174.40 345.36L174.78 460.00L175.23 336.25L175.51 341.55L176.05 460.00L176.47 460.00L176.90 335.74L177.28 342.57L177.66 460.00L178.09 460.00L178.35 353.17L178.76 460.00L179.13 333.49L179.51 460.00L180.08 460.00L180.47 368.99L180.82 355.43L181.15 460.00L181.54 352.31L181.95 460.00L182.37 363.68L182.89 338.13L183.12 333.67L183.63 460.00L183.97 460.00L184.42 460.00L184.75 367.05L185.13 339.56L185.64 460.00L186.05 460.00L186.40 460.00L186.80 364.46L187.18 460.00L187.50 460.00L187.99 460.00L188.48 347.89L188.81 460.00L189.16 329.07L189.69 460.00L189.99 460.00L190.41 334.32L190.88 460.00L191.21 460.00L191.60 340.05L191.94 337.93L192.31 460.00L192.77 460.00L193.29 460.00L193.56 460.00L194.07 373.96L194.38 336.73L194.88 383.25L195.28 460.00L195.53 460.00L196.05 460.00L196.30 336.59L196.86 460.00L197.27 460.00L197.62 460.00L198.04 460.00L198.49 341.24L198.71 460.00L199.12 343.30L199.59 460.00L199.91 330.37L200.47 333.13L200.85 460.00L201.16 460.00L201.65 460.00L202.08 460.00L202.33 460.00L202.75 460.00L203.17 360.39L203.59 460.00L204.03 344.34L204.33 460.00L204.84 460.00L205.21 460.00L205.60 342.20L206.08 338.89L206.46 340.59L206.76 334.28L207.15 460.00L207.68 460.00L208.03 460.00L208.45 342.15L208.72 460.00L209.27 358.40L209.63 325.61L209.95 335.05L210.37 460.00L210.71 460.00L211.11 325.59L211.54 460.00L212.06 331.49L212.38 342.18L212.71 460.00L213.16 383.58L213.60 460.00L214.05 338.20L214.41 460.00L214.90 460.00L215.19 344.94L215.61 460.00L216.00 338.43L216.38 347.68L216.86 335.43L217.13 342.87L217.69 460.00L217.99 460.00L218.36 331.38L218.75 340.24L219.25 460.00L219.64 342.32L219.92 340.80L220.32 343.55L220.82 460.00L221.13 342.14L221.55 331.33L221.91 460.00L222.32 334.52L222.83 336.51L223.27 460.00L223.57 339.06L223.98 336.27L224.33 334.97L224.70 365.68L225.16 325.45L225.67 339.23L225.97 333.11L226.46 332.35L226.80 460.00L227.26 460.00L227.67 369.80L228.01 460.00L228.32 460.00L228.89 460.00L229.23 356.74L229.63 460.00L229.95 460.00L230.43 460.00L230.80 332.25L231.16 460.00L231.65 332.01L232.04 460.00L232.35 460.00L232.73 331.58L233.10 460.00L233.59 332.90L234.00 335.93L234.42 330.55L234.82 347.58L235.10 333.53L235.54 330.91L235.97 460.00L236.37 460.00L236.74 460.00L237.19 460.00L237.65 460.00L237.93 460.00L238.34 328.60L238.79 460.00L239.11 460.00L239.65 460.00L240.04 335.47L240.38 333.91L240.88 332.29L241.17 337.37L241.64 460.00L241.94 350.14L242.32 339.61L242.73 336.11L243.10 460.00L243.59 460.00L243.90 460.00L244.48 345.33L244.73 460.00L245.11 460.00L245.65 340.01L246.06 460.00L246.48 460.00L246.79 337.68L247.26 460.00L247.56 460.00L247.91 356.26L248.42 347.37L248.85 460.00L249.16 460.00L249.56 334.61L249.92 332.89L250.48 333.14L250.79 329.08L251.13 460.00L251.59 460.00L252.03 460.00L252.36 460.00L252.76 460.00L253.16 346.37L253.57 460.00L253.94 334.21L254.39 340.44L254.87 460.00L255.24 460.00L255.67 460.00L255.95 460.00L256.35 460.00L256.80 332.04L257.21 385.99L257.63 460.00L257.99 345.05L258.37 340.94L258.79 339.34L259.11 345.12L259.65 460.00L260.03 343.62L260.43 460.00L260.79 460.00L261.17 460.00L261.60 353.86L261.94 335.48L262.36 460.00L262.88 333.19L263.26 460.00L263.67 332.00L263.93 343.99L264.36 354.79L264.78 460.00L265.18 329.83L265.62 460.00L266.02 460.00L266.36 460.00L266.86 460.00L267.22 370.51L267.68 460.00L267.97 333.64L268.40 337.60L268.81 460.00L269.14 460.00L269.54 337.04L269.91 460.00L270.34 460.00L270.71 347.15L271.30 460.00L271.68 335.63L271.93 354.92L272.31 460.00L272.84 460.00L273.10 460.00L273.67 460.00L274.05 334.69L274.38 329.95L274.76 336.12L275.15 460.00L275.52 460.00L275.95 460.00L276.49 460.00L276.87 460.00L277.18 334.92L277.63 460.00L278.06 340.36L278.33 460.00L278.82 460.00L279.10 460.00L279.55 460.00L280.03 460.00L280.34 345.65L280.72 325.04L281.20 341.17L281.64 328.85L281.94 460.00L282.41 460.00L282.85 460.00L283.20 460.00L283.61 341.32L284.03 335.24L284.36 460.00L284.82 460.00L285.21 335.14L285.52 460.00L285.90 333.72L286.36 460.00L286.75 460.00L287.18 460.00L287.64 333.60L287.90 341.42L288.36 460.00L288.80 337.28L289.23 460.00L289.60 347.65L290.02 345.60L290.40 460.00L290.84 329.97L291.22 460.00L291.64 331.01L292.02 332.82L292.40 335.11L292.84 337.03L293.21 330.07L293.56 340.70L294.06 342.67L294.41 359.01L294.80 344.21L295.24 341.76L295.51 337.31L296.08 460.00L296.37 328.54L296.87 328.39L297.29 346.79L297.60 460.00L298.09 346.79L298.40 460.00L299.20 460.00L299.55 381.22L299.90 329.12L300.00 325.59L300.25 325.77L300.60 326.48L300.95 328.44L301.30 329.43L301.65 330.14L301.90 329.72L302.00 328.96L302.35 320.13L302.60 316.22L302.70 317.00L303.05 317.80L303.40 318.89L303.75 318.05L303.75 318.05L304.10 317.23L304.45 315.53L304.80 313.82L305.00 313.54L305.15 313.62L305.50 314.26L305.85 318.17L306.20 318.95L306.25 319.02L306.55 319.37L306.90 317.54L307.25 317.86L307.50 318.10L307.60 318.21L307.95 320.38L308.30 320.76L308.65 321.26L308.75 321.43L309.00 317.50L309.35 318.69L309.50 319.48L309.70 324.45L310.00 333.35L310.05 333.12L310.40 325.31L310.60 321.85L310.75 320.91L311.10 319.51L311.25 319.35L311.45 319.89L311.80 322.71L312.00 326.17L312.15 329.29L312.50 340.63L312.75 344.67L312.85 343.06L313.20 331.09L313.30 329.93L313.55 331.74L313.80 336.00L313.90 344.23L314.25 419.02L314.55 460.00L314.61 460.00L314.96 460.00L315.31 460.00L315.45 460.00L315.66 443.33L316.01 377.79L316.25 347.00L316.36 342.36L316.71 331.56L316.90 328.00L317.06 326.00L317.41 322.82L317.50 322.00L317.76 319.70L318.11 316.69L318.46 313.89L318.75 311.75L318.81 311.36L319.16 309.03L319.51 306.89L319.86 304.96L320.00 304.25L320.21 303.27L320.56 301.69L320.91 300.22L321.26 298.88L321.61 297.66L321.90 296.75L321.96 296.58L322.31 295.56L322.66 294.59L323.01 293.72L323.36 292.99L323.71 292.45L323.75 292.40L324.06 292.05L324.41 291.68L324.76 291.37L325.11 291.13L325.46 291.01L325.60 291.00L325.81 291.03L326.16 291.23L326.51 291.56L326.86 292.01L327.21 292.53L327.50 293.00L327.56 293.10L327.91 293.95L328.26 295.11L328.61 296.45L328.96 297.84L329.00 298.00L329.31 299.28L329.66 300.87L330.01 302.56L330.36 304.30L330.60 305.50L330.71 306.06L331.06 307.90L331.41 309.82L331.76 311.73L332.11 313.56L332.25 314.25L332.46 315.37L332.81 317.45L333.16 319.38L333.51 320.70L333.75 321.00L333.86 320.97L334.21 320.46L334.56 319.51L334.91 318.32L335.00 318.00L335.26 316.72L335.61 314.24L335.96 311.42L336.25 309.25L336.31 308.82L336.66 306.43L337.01 304.05L337.36 301.69L337.71 299.34L338.06 297.00L338.10 296.75L338.41 294.69L338.76 292.43L339.11 290.17L339.46 287.89L339.81 285.54L340.00 284.25L340.16 283.11L340.51 280.70L340.86 278.25L341.21 275.68L341.56 272.92L341.90 270.00L341.91 269.87L342.26 265.98L342.61 261.54L342.96 257.64L343.10 256.50L343.31 254.97L343.66 252.71L344.01 250.75L344.36 249.13L344.71 247.86L344.75 247.75L345.07 246.84L345.42 245.94L345.77 245.21L346.12 244.71L346.25 244.60L346.47 244.46L346.82 244.26L347.17 244.11L347.52 244.02L347.75 244.00L347.87 244.01L348.22 244.21L348.57 244.58L348.92 245.09L349.27 245.67L349.40 245.90L349.62 246.35L349.97 247.35L350.32 248.62L350.67 250.05L351.00 251.50L351.02 251.58L351.37 253.33L351.72 255.37L352.07 257.56L352.42 259.75L352.50 260.25L352.77 261.78L353.12 263.73L353.47 265.89L353.75 268.00L353.82 268.61L354.17 272.67L354.52 277.09L354.60 278.00L354.87 281.29L355.22 284.22L355.25 284.25L355.57 281.27L355.90 275.50L355.92 275.20L356.27 268.60L356.30 268.00L356.62 261.71L356.90 256.50L356.97 255.35L357.32 249.84L357.67 245.00L357.75 244.00L358.02 240.87L358.37 237.14L358.72 233.83L359.00 231.50L359.07 230.96L359.42 228.41L359.77 226.08L360.12 223.99L360.47 222.13L360.60 221.50L360.82 220.48L361.17 218.97L361.52 217.57L361.87 216.28L362.22 215.10L362.57 214.02L362.75 213.50L362.92 213.03L363.27 212.13L363.62 211.31L363.97 210.56L364.32 209.85L364.50 209.50L364.67 209.17L365.02 208.52L365.37 207.89L365.72 207.32L366.07 206.82L366.25 206.60L366.42 206.39L366.77 205.96L367.12 205.54L367.47 205.18L367.82 204.90L368.17 204.76L368.30 204.75L368.52 204.77L368.87 204.90L369.22 205.12L369.57 205.42L369.92 205.79L370.27 206.22L370.30 206.25L370.62 206.85L370.97 207.88L371.32 209.22L371.50 210.00L371.67 210.95L372.02 213.63L372.37 216.83L372.50 218.00L372.72 220.20L373.07 224.06L373.42 228.05L373.75 231.50L373.77 231.74L374.12 235.03L374.47 238.15L374.82 241.21L375.00 242.75L375.17 244.52L375.53 248.50L375.88 251.25L376.00 251.50L376.23 250.73L376.58 247.49L376.90 244.00L376.93 243.75L377.28 239.98L377.63 235.85L377.90 232.75L377.98 231.93L378.33 228.15L378.68 224.52L379.00 221.50L379.03 221.28L379.38 218.48L379.73 215.93L380.00 214.00L380.08 213.46L380.43 210.96L380.78 208.52L381.13 206.21L381.48 204.13L381.50 204.00L381.83 202.24L382.18 200.48L382.53 198.86L382.88 197.44L383.00 197.00L383.23 196.21L383.58 195.03L383.93 193.94L384.28 192.96L384.63 192.15L384.98 191.53L385.00 191.50L385.33 191.04L385.68 190.58L386.03 190.16L386.38 189.81L386.73 189.56L387.08 189.42L387.25 189.40L387.43 189.42L387.78 189.59L388.13 189.89L388.48 190.31L388.83 190.83L389.18 191.42L389.50 192.00L389.53 192.06L389.88 192.99L390.23 194.32L390.58 195.91L390.93 197.65L391.00 198.00L391.28 199.55L391.63 201.81L391.98 204.34L392.20 206.00L392.33 207.06L392.68 210.28L393.03 213.44L393.10 214.00L393.38 216.05L393.73 218.40L394.00 220.25L394.08 220.86L394.43 223.74L394.78 226.47L395.00 227.75L395.13 228.39L395.48 229.98L395.83 230.87L395.90 230.90L396.18 230.17L396.53 227.93L396.88 225.37L396.90 225.25L397.23 222.99L397.58 220.35L397.75 219.00L397.93 217.42L398.28 214.16L398.30 214.00L398.63 210.76L398.98 207.28L399.33 204.24L399.40 203.75L399.68 201.84L400.03 199.68L400.38 197.72L400.73 195.97L401.08 194.42L401.25 193.75L401.43 193.03L401.78 191.66L402.13 190.38L402.48 189.29L402.83 188.48L403.10 188.10L403.18 188.02L403.53 187.71L403.88 187.43L404.23 187.21L404.58 187.04L404.93 186.93L405.25 186.90L405.28 186.90L405.63 187.05L405.99 187.42L406.34 187.94L406.69 188.58L407.04 189.27L407.10 189.40L407.39 190.09L407.74 191.22L408.09 192.60L408.44 194.14L408.75 195.60L408.79 195.77L409.14 197.66L409.49 199.84L409.84 202.18L410.19 204.57L410.25 205.00L410.54 206.90L410.89 209.25L411.24 211.81L411.50 214.00L411.59 214.80L411.94 218.52L412.29 222.69L412.50 225.25L412.64 226.91L412.99 231.33L413.34 235.77L413.50 237.75L413.69 240.25L414.04 245.46L414.39 249.43L414.60 250.25L414.74 249.80L415.09 245.86L415.40 241.50L415.44 241.03L415.79 236.41L416.14 231.46L416.49 226.65L416.50 226.50L416.84 221.88L417.19 217.25L417.50 214.00L417.54 213.68L417.89 211.13L418.24 209.03L418.59 207.13L418.75 206.25L418.94 205.17L419.29 203.10L419.64 201.10L419.99 199.41L420.34 198.23L420.40 198.10L420.69 197.53L421.04 196.90L421.39 196.34L421.74 195.88L422.09 195.53L422.44 195.31L422.75 195.25L422.79 195.25L423.14 195.37L423.49 195.64L423.84 196.05L424.19 196.56L424.54 197.13L424.75 197.50L424.89 197.79L425.24 198.82L425.59 200.17L425.94 201.70L426.25 203.10L426.29 203.29L426.64 205.02L426.99 206.96L427.34 209.04L427.50 210.00L427.69 211.14L428.04 213.51L428.10 214.00L428.39 217.25L428.74 222.39L429.00 226.50L429.09 228.04L429.44 234.62L429.79 241.52L430.00 245.25L430.14 247.70L430.49 253.62L430.84 258.42L430.90 259.00L431.19 261.87L431.50 263.40L431.54 263.33L431.89 258.81L432.24 251.62L432.25 251.50L432.59 244.03L432.94 235.87L433.10 232.75L433.29 229.39L433.64 223.98L433.99 219.08L434.00 219.00L434.34 214.70L434.40 214.00L434.69 209.89L435.00 206.25L435.04 205.88L435.39 203.23L435.74 201.05L436.09 199.24L436.45 197.72L436.50 197.50L436.80 196.33L437.15 195.00L437.50 193.87L437.85 193.06L438.10 192.75L438.20 192.69L438.55 192.49L438.90 192.34L439.25 192.26L439.40 192.25L439.60 192.31L439.95 192.66L440.30 193.22L440.60 193.75L440.65 193.83L441.00 194.58L441.35 195.53L441.70 196.65L442.05 197.94L442.25 198.75L442.40 199.41L442.75 201.33L443.10 203.57L443.45 205.91L443.50 206.25L443.80 208.04L444.15 210.17L444.50 212.96L444.60 214.00L444.85 217.94L445.20 225.45L445.25 226.50L445.55 232.54L445.90 239.59L446.00 241.50L446.25 245.93L446.60 251.81L446.90 256.50L446.95 257.21L447.30 261.78L447.65 266.43L447.75 268.00L448.00 272.47L448.35 279.74L448.50 283.00L448.70 287.48L449.05 295.78L449.20 299.25L449.40 303.96L449.75 312.06L449.95 315.50L450.10 317.31L450.45 320.59L450.60 322.00L450.80 324.00L451.15 327.50L451.50 331.00L452.02 335.91L452.49 343.18L453.10 460.00L453.69 460.00L454.24 335.54L454.75 460.00L455.30 460.00L456.09 338.52L456.58 332.60L457.04 337.27L457.70 460.00L458.25 460.00L458.77 337.53L459.43 334.93L459.97 460.00L460.59 460.00L461.17 333.50L461.62 460.00L462.31 341.78L462.83 460.00L463.33 460.00L464.10 460.00L464.44 460.00L465.19 341.10L465.60 340.56L466.36 336.27L466.80 327.42L467.53 349.31L468.00 344.77L468.59 460.00L469.08 346.11L469.67 331.63L470.14 460.00L470.71 338.50L471.43 460.00L471.94 460.00L472.60 460.00L473.07 329.37L473.63 460.00L474.18 460.00L474.93 460.00L475.33 335.59L476.07 330.88L476.55 460.00L477.07 460.00L477.75 460.00L478.30 339.70L478.70 460.00L479.38 342.01L480.04 460.00L480.55 460.00L481.08 339.98L481.65 460.00L482.14 336.88L482.74 338.48L483.32 339.12L483.87 355.50L484.60 460.00L484.99 349.83L485.63 344.67L486.12 460.00L486.66 460.00L487.37 460.00L488.03 460.00L488.53 340.48L489.12 460.00L489.73 460.00L490.24 460.00L490.72 343.41L491.29 460.00L491.84 337.42L492.45 460.00L492.90 353.98L493.67 460.00L494.22 460.00L494.71 460.00L495.19 460.00L495.96 346.27L496.38 460.00L496.93 344.04L497.51 367.79L498.24 460.00L498.81 349.90L499.29 460.00L500.01 340.77L500.43 340.63L501.14 460.00L501.69 389.54L502.16 460.00L502.83 344.57L503.38 344.64L503.94 357.42L504.36 460.00L505.13 460.00L505.45 460.00L506.19 342.94L506.71 460.00L507.40 341.77L507.92 339.89L508.36 349.09L509.13 460.00L509.66 460.00L510.11 335.52L510.62 460.00L511.31 355.45L511.89 460.00L512.44 348.95L512.96 340.18L513.44 460.00L514.18 396.26L514.74 341.05L515.24 460.00L515.74 334.51L516.47 344.72L517.05 460.00L517.57 341.97L518.23 460.00L518.75 374.53L519.27 460.00L519.82 460.00L520.28 460.00L520.90 460.00L521.49 460.00L521.97 460.00L522.55 340.38L523.23 348.47L523.69 460.00L524.25 460.00L525.02 460.00L525.44 356.13L526.23 460.00L526.56 460.00L527.34 460.00L527.86 460.00L528.37 347.48L528.94 460.00L529.66 348.04L530.00 334.08L530.59 367.93L531.20 460.00L531.67 460.00L532.50 460.00L532.90 460.00L533.57 460.00L534.05 460.00L534.63 356.32L535.26 336.28L535.79 460.00L536.22 460.00L536.92 460.00L537.59 342.12L537.97 340.26L538.72 460.00L539.16 460.00L539.90 460.00L540.27 460.00L540.94 370.34L541.51 460.00L542.14 460.00L542.73 354.97L543.07 460.00L543.64 460.00L544.41 334.47L544.86 358.19L545.59 348.28L546.06 460.00L546.71 460.00L547.26 460.00L547.77 345.94L548.42 342.28L548.77 360.98L549.46 460.00L550.02 460.00L550.54 460.00L551.15 334.30L551.83 336.69L552.23 460.00L552.91 460.00L553.56 336.50L554.03 460.00L554.57 333.99L555.24 460.00L555.67 460.00L556.36 460.00L556.88 335.32L557.35 346.56L557.92 339.40L558.46 460.00L559.14 372.00L559.67 365.62L560.23 460.00L560.80 460.00L561.43 460.00L562.15 460.00L562.48 460.00L563.09 358.91L563.66 460.00L564.25 340.10L564.88 346.38L565.40 460.00L565.97 460.00L566.48 340.08L567.12 342.07L567.79 460.00L568.16 460.00L568.81 385.78L569.42 352.32L569.88 460.00L570.58 460.00L571.01 335.65L571.66 460.00L572.15 460.00L572.74 333.96L573.55 460.00L573.92 460.00L574.47 460.00L575.11 460.00L575.77 337.72L576.37 346.86L576.73 460.00L577.51 334.40L578.04 460.00L578.47 460.00L579.09 460.00L579.69 460.00L580.31 460.00L580.85 460.00L581.40 460.00L582.04 460.00L582.47 460.00L583.04 460.00L583.59 460.00L584.35 460.00L584.73 460.00L585.48 460.00L586.06 342.00L586.47 460.00L586.96 460.00L587.75 335.89L588.17 337.29L588.80 335.45L589.51 460.00L590.04 333.44L590.45 333.74L591.14 334.48L591.56 460.00L592.12 460.00L592.81 353.07L593.32 347.31L593.95 371.34L594.52 460.00L595.18 333.71L595.75 460.00L596.33 460.00L596.80 349.66L597.27 337.85L597.99 460.00L598.49 360.38L599.16 460.00L599.71 460.00L600.10 460.00L600.66 342.10L601.30 460.00L601.81 460.00L602.40 378.56L602.91 460.00L603.75 460.00L604.12 460.00L604.80 460.00L605.24 460.00L605.96 460.00L606.49 460.00L607.06 460.00L607.73 460.00L608.17 341.47L608.82 460.00L609.29 354.80L609.80 337.40L610.39 460.00L611.13 460.00L611.67 460.00L612.29 460.00L612.81 460.00L613.34 460.00L613.85 366.76L614.52 348.92L614.97 460.00L615.69 367.40L616.14 349.42L616.64 393.59L617.38 333.34L617.84 460.00L618.55 335.49L619.01 371.19L619.61 460.00L620.10 460.00L620.85 336.51L621.42 460.00L621.82 460.00L622.57 390.84L623.08 460.00L623.69 345.70L624.03 460.00L624.69 341.39L625.24 346.59L625.89 359.47L626.28 460.00L627.07 342.41L627.61 350.32L628.20 460.00L628.71 345.76L629.35 460.00L629.72 460.00L630.28 340.42L630.91 349.97L631.58 460.00L632.13 460.00L632.61 340.22L633.15 460.00L633.96 460.00L634.32 333.97L634.86 347.99L635.46 342.14L636.15 460.00L636.71 460.00L637.31 336.34L637.77 337.09L638.31 341.76L638.96 460.00L639.55 460.00L640.22 460.00L640.64 460.00L641.17 343.01L641.68 460.00L642.51 345.95L643.05 336.54L643.64 362.18L644.09 460.00L644.79 460.00L645.25 460.00L645.74 349.00L646.34 460.00" stroke="#d62728"/>
</g>
<rect x="90.5" y="52.5" width="558" height="326" fill="none" stroke="#d0d0d0" stroke-width="1"/>
<text x="90.30" y="391.9" font-size="13.89" text-anchor="middle">840</text>
<text x="164.70" y="391.9" font-size="13.89" text-anchor="middle">842</text>
<text x="239.10" y="391.9" font-size="13.89" text-anchor="middle">844</text>
<text x="313.50" y="391.9" font-size="13.89" text-anchor="middle">846</text>
<text x="387.90" y="391.9" font-size="13.89" text-anchor="middle">848</text>
<text x="462.30" y="391.9" font-size="13.89" text-anchor="middle">850</text>
<text x="536.70" y="391.9" font-size="13.89" text-anchor="middle">852</text>
<text x="611.10" y="391.9" font-size="13.89" text-anchor="middle">854</text>
<text x="86.3" y="56.50" font-size="13.89" text-anchor="end">20</text>
<text x="86.3" y="115.85" font-size="13.89" text-anchor="end">0</text>
<text x="86.3" y="175.19" font-size="13.89" text-anchor="end">−20</text>
<text x="86.3" y="234.54" font-size="13.89" text-anchor="end">−40</text>
<text x="86.3" y="293.88" font-size="13.89" text-anchor="end">−60</text>
<text x="86.3" y="353.23" font-size="13.89" text-anchor="end">−80</text>
<text x="368.9" y="411.8" font-size="16.67" text-anchor="middle" letter-spacing="0.43">Wavelength [nm]</text>
<text transform="translate(53.8 215.5) rotate(-90)" font-size="16.67" text-anchor="middle" letter-spacing="0.26">Optical Power [dB]</text>
<text x="369.2" y="45.8" font-size="16.67" text-anchor="middle" letter-spacing="0.36">D4738 V20986 Ch. 3</text>
<rect x="97.5" y="59.5" width="147" height="68" rx="2.6" ry="2.6" fill="#fff" fill-opacity="0.8" stroke="#d5d5d5" stroke-width="1"/>
<path d="M103 71.00H131.3" stroke="#bcbd22" stroke-width="1.5" stroke-linecap="round"/>
<text x="143" y="76.00" font-size="13.89" letter-spacing="0.29">OptoBoard QA</text>
<path d="M103 92.00H131.3" stroke="#ff7f0e" stroke-width="1.5" stroke-linecap="round"/>
<text x="143" y="96.75" font-size="13.89" letter-spacing="0.29">Post Burn-In</text>
<path d="M103 113.00H131.3" stroke="#d62728" stroke-width="1.5" stroke-linecap="round"/>
<text x="143" y="117.50" font-size="13.89" letter-spacing="0.29">Pre Burn-In</text>
</svg></body></html>
